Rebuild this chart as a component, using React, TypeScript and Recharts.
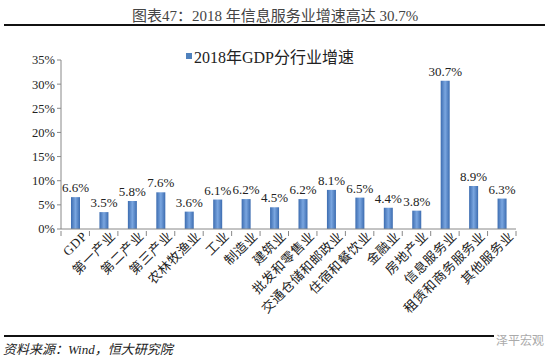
import React from "react";
import { BarChart, Bar, XAxis, YAxis, LabelList, Legend } from "recharts";

const categories = [
  "GDP", "第一产业", "第二产业", "第三产业", "农林牧渔业", "工业", "制造业", "建筑业",
  "批发和零售业", "交通仓储和邮政业", "住宿和餐饮业", "金融业", "房地产业",
  "信息服务业", "租赁和商务服务业", "其他服务业",
];
const growth = [6.6, 3.5, 5.8, 7.6, 3.6, 6.1, 6.2, 4.5, 6.2, 8.1, 6.5, 4.4, 3.8, 30.7, 8.9, 6.3];
const yTicks = [0, 5, 10, 15, 20, 25, 30, 35];
const seriesName = "2018年GDP分行业增速";

const data = categories.map((c, i) => ({ name: c, value: growth[i] }));

const SERIF = '"Liberation Serif", "Times New Roman", "Noto Sans CJK SC", serif';
const W = 550;
const H = 358;
const M = { top: 36, right: 34, left: 6, bottom: 29 };
const Y_W = 55;
const PLOT_W = W - M.left - M.right - Y_W;
const HALF_BAND = PLOT_W / categories.length / 2;

const AngledTick = ({ x, y, payload, index }: any) => {
  const last = index === categories.length - 1;
  return (
    <g transform={`translate(${x},${y})`}>
      <line x1={-HALF_BAND} y1={-6} x2={-HALF_BAND} y2={-1} stroke="#888" />
      {last && <line x1={HALF_BAND} y1={-6} x2={HALF_BAND} y2={-1} stroke="#888" />}
      <text
        x={9}
        y={9}
        textAnchor="end"
        transform="rotate(-45)"
        fontSize={13}
        letterSpacing={0.6}
        fontFamily={SERIF}
        fill="#222"
      >
        {payload.value}
      </text>
    </g>
  );
};

const LegendBox = () => (
  <div style={{ display: "flex", alignItems: "center", fontFamily: SERIF, fontSize: 16, color: "#222" }}>
    <span style={{ width: 6, height: 6, background: "#4f81bd", marginRight: 2, display: "inline-block" }} />
    {seriesName}
  </div>
);

export default function App() {
  return (
    <div style={{ position: "absolute", left: 0, top: 0, width: W, height: H, background: "#fff", fontFamily: SERIF }}>
      <div style={{ position: "absolute", top: 4, width: W, textAlign: "center", fontSize: 15, color: "#444" }}>
        图表47：2018 年信息服务业增速高达 30.7%
      </div>
      <div style={{ position: "absolute", left: 4, top: 24, width: 541, height: 2, background: "#111" }} />
      <BarChart width={W} height={H} data={data} margin={M} style={{ position: "absolute", left: 0, top: 0 }}>
        <defs>
          <linearGradient id="barGrad" x1="0" y1="0" x2="1" y2="0">
            <stop offset="0%" stopColor="#3c6cb0" />
            <stop offset="50%" stopColor="#7aa6e0" />
            <stop offset="100%" stopColor="#3c6cb0" />
          </linearGradient>
        </defs>
        <XAxis
          dataKey="name"
          interval={0}
          height={100}
          tick={<AngledTick />}
          tickLine={false}
          axisLine={{ stroke: "#888" }}
        />
        <YAxis
          width={Y_W}
          domain={[0, 35]}
          ticks={yTicks}
          tickFormatter={(v: number) => `${v}%`}
          tick={{ fontSize: 12.5, fontFamily: SERIF, fill: "#222" }}
          tickSize={4}
          tickLine={{ stroke: "#888" }}
          axisLine={{ stroke: "#888" }}
        />
        <Legend
          verticalAlign="top"
          content={<LegendBox />}
          wrapperStyle={{ position: "absolute", left: 186, top: 44, width: "auto" }}
        />
        <Bar dataKey="value" name={seriesName} fill="url(#barGrad)" barSize={9} isAnimationActive={false}>
          <LabelList
            dataKey="value"
            position="top"
            offset={5}
            formatter={(v: number) => `${v.toFixed(1)}%`}
            style={{ fontSize: 13, fontFamily: SERIF, fill: "#222" }}
          />
        </Bar>
      </BarChart>
      <div style={{ position: "absolute", left: 4, top: 335, width: 541, height: 2, background: "#111" }} />
      <div style={{ position: "absolute", left: 3, top: 339, fontSize: 13, fontStyle: "italic", color: "#222" }}>
        资料来源：Wind，恒大研究院
      </div>
      <div style={{ position: "absolute", left: 494, top: 331, fontSize: 12, color: "#aaa", whiteSpace: "nowrap", fontFamily: '"Noto Sans CJK SC", sans-serif', background: "#fff", padding: "0 2px" }}>
        泽平宏观
      </div>
    </div>
  );
}
